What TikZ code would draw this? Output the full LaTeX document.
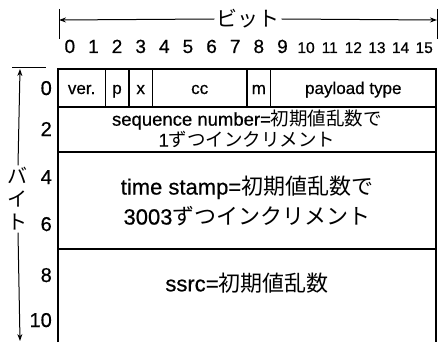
\documentclass[tikz,border=0pt]{standalone}
\usepackage{fontspec}
\setmainfont{Liberation Sans}[FakeBold=0.6]
\newfontfamily\jp{Noto Sans CJK JP}
\usetikzlibrary{arrows.meta}
\begin{document}
\begin{tikzpicture}[x=1pt,y=-1pt,
  frame/.style={line width=1.4pt},
  arr/.style={line width=1pt,-{Stealth[length=7pt,width=5pt]}},
  tick/.style={line width=1pt},
  num/.style={font=\fontsize{19}{20}\selectfont,inner sep=0pt,anchor=base},
  numsm/.style={font=\fontsize{15.5}{16}\selectfont,inner sep=0pt,anchor=base},
  byte/.style={font=\fontsize{20}{20}\selectfont,inner sep=0pt,anchor=base east},
  fld/.style={font=\fontsize{17}{20}\selectfont,inner sep=0pt,anchor=base},
  big/.style={font=\fontsize{22}{30}\selectfont,inner sep=0pt,align=center},
  mid/.style={font=\fontsize{18.5}{21}\selectfont,inner sep=0pt,align=center}]
\useasboundingbox (0,0) rectangle (443,342);
% bit axis
\coordinate (bl) at (59,20);
\coordinate (br) at (437,20);
\node[font=\jp\fontsize{21}{24}\selectfont,inner sep=2pt] (bit) at (248,19) {ビット};
\draw[arr] (bit.west) -- (bl);
\draw[arr] (bit.east) -- (br);
\draw[tick] (59,9) -- (59,39);
\draw[tick] (437,9) -- (437,39);
% bit numbers
\foreach \i in {0,...,9}{
  \node[num] (n\i) at ({58+(\i+0.5)*23.625},53) {\i};
}
\foreach \i in {10,...,15}{
  \node[numsm] (n\i) at ({58+(\i+0.5)*23.625},53) {\i};
}
% table
\draw[frame] (58,342) -- (58,69) -- (436,69) -- (436,342);
\draw[frame] (58,107) -- (436,107);
\draw[frame] (58,152) -- (436,152);
\draw[frame] (58,249) -- (436,249);
\foreach \x in {105.25,128.875,152.5,247,270.625}{
  \draw[frame] (\x,69) -- (\x,107);
}
% field texts
\node[fld] (ver) at (81.6,94) {ver.};
\node[fld] (p) at (117,94) {p};
\node[fld] (x) at (140.7,94) {x};
\node[fld] (cc) at (199.7,94) {cc};
\node[fld] (m) at (258.8,94) {m};
\node[fld] (pt) at (353.3,94) {payload type};
\node[mid] (seq) at (247,129) {sequence number={\jp 初期値乱数で}\\1{\jp ずつインクリメント}};
\node[big] (ts) at (247,201) {time stamp={\jp 初期値乱数で}\\3003{\jp ずつインクリメント}};
\node[big] (ssrc) at (247,283) {ssrc={\jp 初期値乱数}};
% byte axis
\draw[tick] (12,68) -- (46,68);
\coordinate (at) at (20,69);
\coordinate (ab) at (20,341);
\node[font=\jp\fontsize{20}{23}\selectfont,align=center,inner sep=2pt] (bt) at (18,199) {バ\\イ\\ト};
\draw[arr] (bt.north) -- (at);
\draw[arr] (bt.south) -- (ab);
\node[byte] (b0) at (52,95) {0};
\node[byte] (b2) at (52,136) {2};
\node[byte] (b4) at (52,184) {4};
\node[byte] (b6) at (52,231) {6};
\node[byte] (b8) at (52,282) {8};
\node[byte] (b10) at (52,327) {10};
\end{tikzpicture}
\end{document}
